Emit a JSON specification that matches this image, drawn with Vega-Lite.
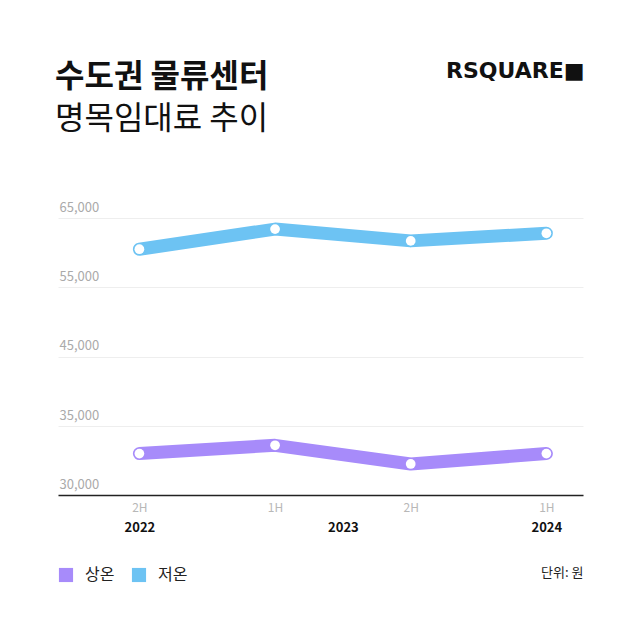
{
  "$schema": "https://vega.github.io/schema/vega-lite/v6.json",
  "width": 525,
  "height": 277,
  "autosize": {"type": "none"},
  "padding": {"left": 58, "top": 218, "right": 57, "bottom": 145},
  "background": "white",
  "config": {
    "view": {"stroke": null},
    "font": "Noto Sans CJK KR"
  },
  "title": {
    "text": "수도권 물류센터",
    "subtitle": "명목임대료 추이",
    "anchor": "start",
    "frame": "bounds",
    "font": "Noto Sans CJK KR",
    "fontSize": 32,
    "fontWeight": "bold",
    "color": "#111111",
    "subtitleFont": "Noto Sans CJK KR",
    "subtitleFontSize": 32,
    "subtitleFontWeight": "normal",
    "subtitleColor": "#111111",
    "subtitlePadding": 10,
    "dx": -3,
    "offset": -77
  },
  "data": {
    "values": [
      {"t": 0, "type": "상온", "rent": 33000},
      {"t": 1, "type": "상온", "rent": 33600},
      {"t": 2, "type": "상온", "rent": 32250},
      {"t": 3, "type": "상온", "rent": 33000},
      {"t": 0, "type": "저온", "rent": 60500},
      {"t": 1, "type": "저온", "rent": 63400},
      {"t": 2, "type": "저온", "rent": 61700},
      {"t": 3, "type": "저온", "rent": 62800}
    ]
  },
  "resolve": {"axis": {"x": "independent", "y": "independent"}},
  "layer": [
    {
      "mark": {"type": "line", "strokeWidth": 13, "strokeCap": "round", "strokeJoin": "round"},
      "encoding": {
        "x": {
          "field": "t", "type": "quantitative",
          "scale": {"domain": [-0.6, 3.27], "nice": false, "zero": false},
          "axis": {
            "orient": "bottom",
            "values": [0, 1, 2, 3],
            "labelExpr": "['2H','1H','2H','1H'][datum.value]",
            "title": null,
            "grid": false,
            "ticks": false,
            "domain": true,
            "domainColor": "#222222",
            "domainWidth": 1.5,
            "labelColor": "#b8b8b8",
            "labelFontSize": 12,
            "labelFont": "Noto Sans CJK KR",
            "labelBaseline": "middle",
            "labelPadding": 12
          }
        },
        "y": {
          "field": "rent", "type": "quantitative",
          "scale": {"domain": [30000, 35000, 65000], "range": [277, 208, 0], "nice": false, "zero": false},
          "axis": {
            "orient": "left",
            "values": [30000, 35000, 45000, 55000, 65000],
            "format": ",d",
            "title": null,
            "ticks": false,
            "domain": false,
            "grid": true,
            "gridColor": "#eeeeee",
            "gridWidth": 1,
            "labelAlign": "left",
            "labelBaseline": "alphabetic",
            "labelPadding": -1,
            "labelOffset": -7,
            "labelColor": "#aaaaaa",
            "labelFontSize": 13,
            "labelFont": "Noto Sans CJK KR"
          }
        },
        "color": {
          "field": "type", "type": "nominal",
          "scale": {"domain": ["상온", "저온"], "range": ["#a78bfa", "#6dc3f3"]},
          "legend": {
            "title": null,
            "orient": "none",
            "legendX": 0,
            "legendY": 349,
            "direction": "horizontal",
            "symbolType": "square",
            "symbolSize": 200,
            "symbolStrokeWidth": 0,
            "symbolOpacity": 1,
            "labelFontSize": 16,
            "labelColor": "#222222",
            "labelFont": "Noto Sans CJK KR",
            "labelOffset": 11,
            "columnPadding": 16,
            "padding": 0,
            "encode": {
              "symbols": {
                "update": {
                  "fill": {"scale": "color", "field": "value"},
                  "fillOpacity": {"value": 1},
                  "strokeWidth": {"value": 0}
                }
              }
            }
          }
        }
      }
    },
    {
      "mark": {"type": "point", "filled": true, "fill": "white", "opacity": 1, "size": 95, "strokeWidth": 0},
      "encoding": {
        "x": {
          "field": "t", "type": "quantitative",
          "axis": {
            "orient": "bottom",
            "values": [0, 1.5, 3],
            "labelExpr": "datum.value == 0 ? '2022' : (datum.value == 3 ? '2024' : '2023')",
            "title": "단위: 원",
            "titleX": 525,
            "titleY": 77,
            "titleAlign": "right",
            "titleBaseline": "middle",
            "titleFontSize": 13,
            "titleFontWeight": "normal",
            "titleColor": "#222222",
            "titleFont": "Noto Sans CJK KR",
            "grid": false,
            "ticks": false,
            "domain": false,
            "labelColor": "#111111",
            "labelFontSize": 13,
            "labelFontWeight": "bold",
            "labelFont": "Noto Sans CJK KR",
            "labelBaseline": "middle",
            "labelPadding": 32
          }
        },
        "y": {
          "field": "rent", "type": "quantitative",
          "axis": {
            "orient": "right",
            "labels": false,
            "ticks": false,
            "domain": false,
            "grid": false,
            "title": "RSQUARE■",
            "titleAngle": 0,
            "titleX": 1,
            "titleY": -148,
            "titleAlign": "right",
            "titleBaseline": "middle",
            "titleFont": "DejaVu Sans",
            "titleFontSize": 22,
            "titleFontWeight": "bold",
            "titleColor": "#111111"
          }
        }
      }
    }
  ]
}
